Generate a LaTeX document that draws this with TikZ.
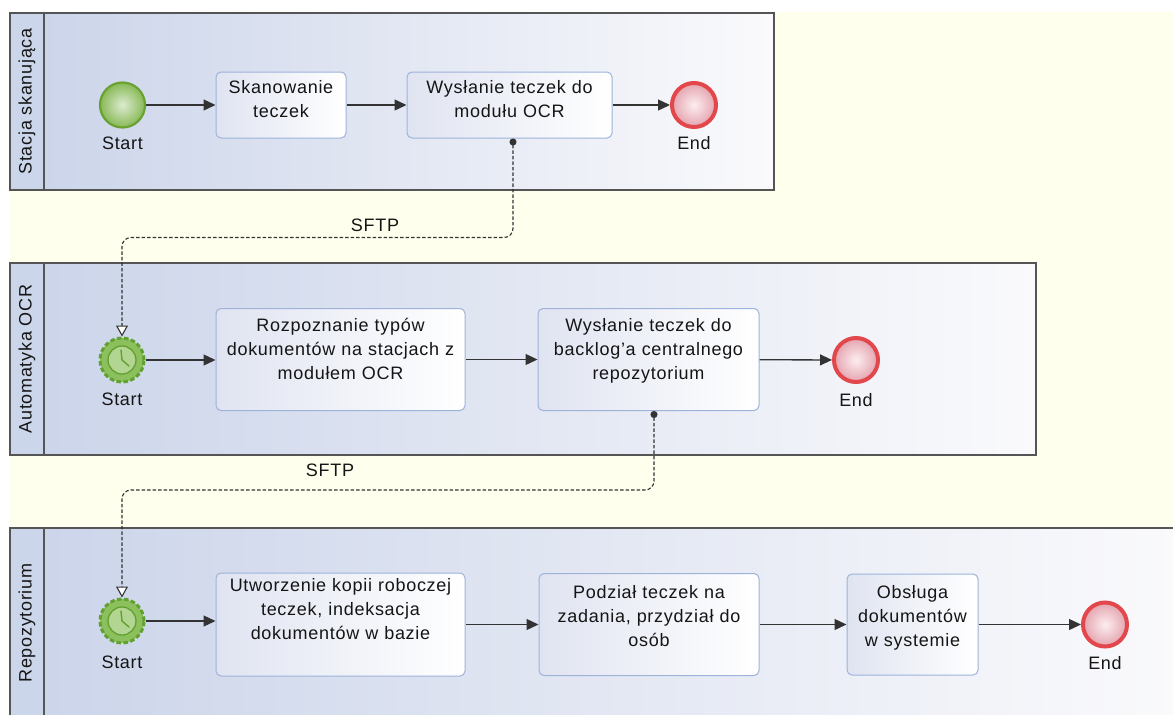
\documentclass[tikz,border=0pt]{standalone}
\usepackage{fontspec}
\setmainfont{Liberation Sans}[LetterSpace=4]
\usetikzlibrary{arrows.meta,calc}
\definecolor{bgY}{HTML}{FFFFEE}
\definecolor{laneL}{HTML}{CCD5EA}
\definecolor{laneR}{HTML}{FAFAFC}
\definecolor{headC}{HTML}{CCD6EA}
\definecolor{laneLine}{HTML}{555555}
\definecolor{taskL}{HTML}{E0E4F1}
\definecolor{taskR}{HTML}{FFFFFF}
\definecolor{taskB}{HTML}{9DB3DA}
\definecolor{lineC}{HTML}{333333}
\definecolor{txtC}{HTML}{151515}
\definecolor{gBorder}{HTML}{6AA231}
\definecolor{gIn}{HTML}{DCEBD0}
\definecolor{gOut}{HTML}{88B956}
\definecolor{tGreen}{HTML}{8CC05C}
\definecolor{tDark}{HTML}{62A032}
\definecolor{tLight}{HTML}{B3D592}
\definecolor{rBorder}{HTML}{E1474B}
\definecolor{rIn}{HTML}{FCEEF0}
\definecolor{rOut}{HTML}{E4A3AE}
\begin{document}
\begin{tikzpicture}[x=1pt,y=-1pt,
  font=\fontsize{18}{24}\selectfont, text=txtC,
  laneline/.style={draw=laneLine, line width=1.6pt},
  lanetitle/.style={rotate=90, inner sep=0pt},
  task/.style 2 args={draw=taskB, line width=1pt, rounded corners=5pt,
     left color=taskL, right color=taskR, minimum width=#1, minimum height=#2,
     text width=#1-4pt, inner xsep=2pt, inner ysep=0pt, align=center, text height=13pt},
  evlbl/.style={inner sep=1pt, font=\fontsize{18}{24}\selectfont},
  startev/.style={circle, minimum size=45pt, inner sep=0pt, draw=gBorder, line width=2.2pt,
     inner color=gIn, outer color=gOut},
  endev/.style={circle, minimum size=44pt, inner sep=0pt, draw=rBorder, line width=4pt,
     inner color=rIn, outer color=rOut},
  timer/.style={circle, minimum size=44pt, inner sep=0pt, fill=tGreen, draw=tDark,
     line width=3pt, dash pattern=on 4.5pt off 2.5pt,
     path picture={
       \draw[solid, line width=1.3pt, draw=tDark, fill=tLight]
         (path picture bounding box.center) circle (14pt);
       \draw[solid, line width=1.4pt, draw=tDark, line cap=round]
         ($(path picture bounding box.center)+(-1pt,10pt)$) -- (path picture bounding box.center)
         -- ++(7pt,-6pt);
     }},
  seq/.style={draw=lineC, line width=1.3pt, -{Triangle[length=12pt,width=11pt]}},
  msg/.style={draw=lineC, line width=1.1pt, dash pattern=on 3.5pt off 2pt, rounded corners=9pt,
     {Circle[length=7pt]}-{Triangle[length=11pt,width=12pt,fill=white]}},
  lbl/.style={inner sep=1pt}
]
\useasboundingbox (0,0) rectangle (1173,715);
\clip (0,0) rectangle (1173,715);
\fill[white] (0,0) rectangle (1173,715);
\fill[bgY] (10,12) rectangle (1173,715);

% Lane 1
\shade[left color=laneL, right color=laneR] (44,13) rectangle (774,190);
\fill[headC] (10,13) rectangle (44,190);
\draw[laneline] (10,13) rectangle (774,190);
\draw[laneline] (44,13) -- (44,190);
\node[lanetitle] (h1) at (27,101.5) {Stacja skanująca};

% Lane 2
\shade[left color=laneL, right color=laneR] (44,263) rectangle (1036,455);
\fill[headC] (10,263) rectangle (44,455);
\draw[laneline] (10,263) rectangle (1036,455);
\draw[laneline] (44,263) -- (44,455);
\node[lanetitle] (h2) at (27,359) {Automatyka OCR};

% Lane 3
\shade[left color=laneL, right color=laneR] (44,528) rectangle (1180,730);
\fill[headC] (10,528) rectangle (44,730);
\draw[laneline] (10,528) rectangle (1180,730);
\draw[laneline] (44,528) -- (44,730);
\node[lanetitle] (h3) at (27,623) {Repozytorium};

% Lane 1 content
\node[startev, label={[evlbl, label distance=7pt]below:Start}] (s1) at (122.5,105) {};
\node[task={130pt}{66pt}, text depth=37pt] (t1) at (281,105) {Skanowanie\\teczek};
\node[task={205pt}{66pt}, text depth=37pt] (t2) at (509.5,105) {Wysłanie teczek do\\modułu OCR};
\node[endev, label={[evlbl, label distance=6.5pt]below:End}] (e1) at (694,105) {};
\draw[seq] (s1) -- (t1);
\draw[seq] (t1) -- (t2);
\draw[seq] (t2) -- (e1);

% Lane 2 content
\node[timer, label={[evlbl, label distance=8pt]below:Start}] (s2) at (122,360) {};
\node[task={249pt}{102pt}, text depth=69pt] (r1) at (340.5,359.5) {Rozpoznanie typów\\dokumentów na stacjach z\\modułem OCR};
\node[task={221pt}{102pt}, text depth=69pt] (r2) at (648.5,359.5) {Wysłanie teczek do\\backlog'a centralnego\\repozytorium};
\node[endev, label={[evlbl, label distance=8pt]below:End}] (e2) at (856,360) {};
\draw[seq] (s2) -- (s2 -| r1.west);
\draw[seq] (r1) -- (r2);
\draw[seq] (r2) -- (e2);

% Lane 3 content
\node[timer, label={[evlbl, label distance=10pt]below:Start}] (s3) at (122,621) {};
\node[task={249pt}{103pt}, text depth=80pt] (u1) at (340.5,624.5) {Utworzenie kopii roboczej\\teczek, indeksacja\\dokumentów w bazie};
\node[task={220pt}{102pt}, text depth=66pt] (u2) at (649,624.5) {Podział teczek na\\zadania, przydział do\\osób};
\node[task={131pt}{101pt}, text depth=66pt] (u3) at (912.5,624.5) {Obsługa\\dokumentów\\w systemie};
\node[endev, label={[evlbl, label distance=6.5pt]below:End}] (e3) at (1105,624.5) {};
\draw[seq] (s3) -- (s3 -| u1.west);
\draw[seq] (u1) -- (u2);
\draw[seq] (u2) -- (u3);
\draw[seq] (u3) -- (e3);

% Message flows
\draw[msg] ([xshift=3.5pt]t2.south) -- ++(0,99) -| (s2.north);
\node[lbl] (f1) at (375,225) {SFTP};
\draw[msg] ([xshift=5.5pt]r2.south) -- ++(0,79) -| (s3.north);
\node[lbl] (f2) at (330,470) {SFTP};
\end{tikzpicture}
\end{document}
